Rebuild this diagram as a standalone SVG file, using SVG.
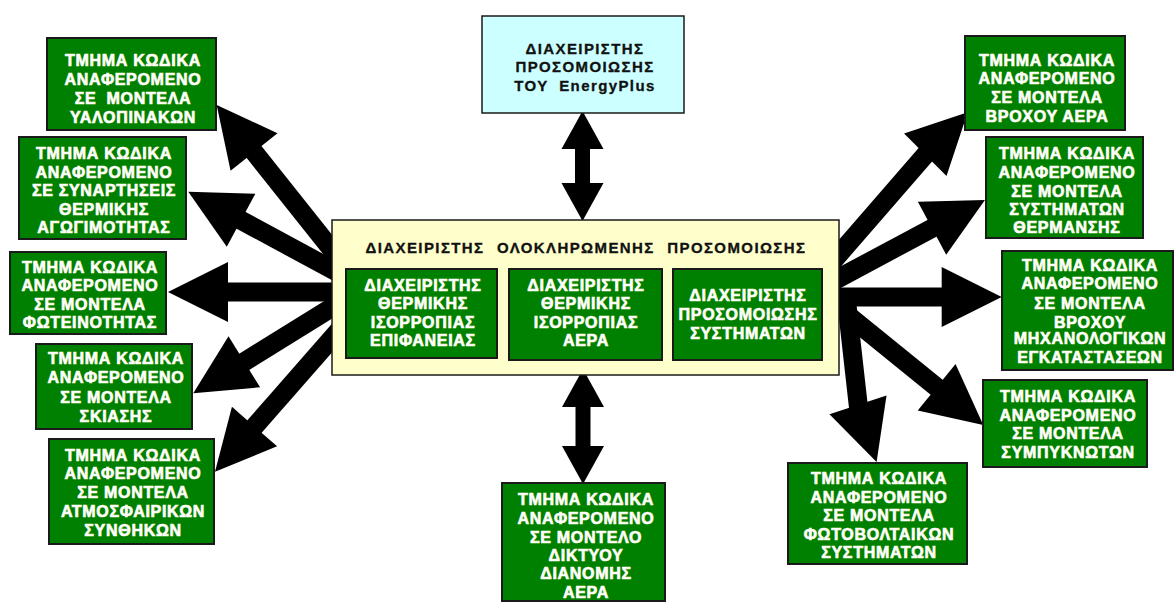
<svg xmlns="http://www.w3.org/2000/svg" width="1175" height="603" viewBox="0 0 1175 603">
<style>
.g{fill:#008000;stroke:#1a1a1a;stroke-width:2}
.t{font-family:"Liberation Sans",Arial,sans-serif;font-weight:bold;font-size:16px;fill:#ffffff;stroke:#f4f4d0;stroke-width:0.7px;paint-order:stroke;text-anchor:middle;letter-spacing:0.7px}
.k{font-family:"Liberation Sans",Arial,sans-serif;font-weight:bold;font-size:15px;fill:#111111;stroke:#111111;stroke-width:0.3px;text-anchor:middle;letter-spacing:1.4px}
.big{stroke:#000;stroke-width:19;fill:none;marker-end:url(#ah)}
.dbl{stroke:#000;stroke-width:15;fill:none;marker-start:url(#sh);marker-end:url(#sh)}
</style>
<defs>
<marker id="ah" markerUnits="userSpaceOnUse" markerWidth="62" markerHeight="62" refX="2" refY="30" orient="auto" overflow="visible"><path d="M0,0 L60,30 L0,60 Z" fill="#000"/></marker>
<marker id="sh" markerUnits="userSpaceOnUse" markerWidth="40" markerHeight="44" refX="1" refY="21" orient="auto-start-reverse" overflow="visible"><path d="M0,0 L38,21 L0,42 Z" fill="#000"/></marker>
</defs>
<rect width="1175" height="603" fill="#ffffff"/>
<g id="connectors">
<line class="dbl" x1="582.5" y1="148" x2="582.5" y2="184"/>
<line class="dbl" x1="583" y1="406" x2="583" y2="447"/>
<line class="big" x1="345" y1="266.3" x2="252.8" y2="150.4"/>
<line class="big" x1="345" y1="276.5" x2="239.3" y2="219.3"/>
<line class="big" x1="345" y1="292" x2="226" y2="292"/>
<line class="big" x1="345" y1="299.4" x2="242.6" y2="362.8"/>
<line class="big" x1="345" y1="323.2" x2="253.2" y2="428.1"/>
<path class="big" d="M826,269.2 L926,154 l0.7,-0.7"/>
<line class="big" x1="826" y1="285" x2="933.8" y2="227.3"/>
<line class="big" x1="826" y1="297" x2="943.7" y2="297"/>
<line class="big" x1="826" y1="297.5" x2="938.2" y2="388.5"/>
<path class="big" d="M846,296 L858.3,405.8 l0.31,0.95"/>
</g>
<g id="energyplus">
<rect x="482" y="16" width="202" height="97" fill="#ccffff" stroke="#1a1a1a" stroke-width="1.5"/>
<text class="k" x="585" y="53.5">ΔΙΑΧΕΙΡΙΣΤΗΣ</text>
<text class="k" x="585" y="72">ΠΡΟΣΟΜΟΙΩΣΗΣ</text>
<text class="k" x="585" y="90.5" word-spacing="5">ΤΟΥ EnergyPlus</text>
</g>
<g id="integrated-manager">
<rect x="332" y="220" width="507" height="155" fill="#ffffcc" stroke="#1a1a1a" stroke-width="1.5"/>
<text class="k" x="586" y="252.5" word-spacing="7">ΔΙΑΧΕΙΡΙΣΤΗΣ ΟΛΟΚΛΗΡΩΜΕΝΗΣ ΠΡΟΣΟΜΟΙΩΣΗΣ</text>
</g>
<g id="surface-heat">
<rect class="g" x="346" y="269" width="151" height="89"/>
<text class="t" x="423" y="291">ΔΙΑΧΕΙΡΙΣΤΗΣ</text>
<text class="t" x="423" y="309">ΘΕΡΜΙΚΗΣ</text>
<text class="t" x="423" y="328">ΙΣΟΡΡΟΠΙΑΣ</text>
<text class="t" x="423" y="346">ΕΠΙΦΑΝΕΙΑΣ</text>
</g>
<g id="air-heat">
<rect class="g" x="509" y="269" width="153" height="91"/>
<text class="t" x="586" y="291">ΔΙΑΧΕΙΡΙΣΤΗΣ</text>
<text class="t" x="586" y="309">ΘΕΡΜΙΚΗΣ</text>
<text class="t" x="586" y="328">ΙΣΟΡΡΟΠΙΑΣ</text>
<text class="t" x="586" y="346">ΑΕΡΑ</text>
</g>
<g id="systems-sim">
<rect class="g" x="673" y="269" width="149" height="91"/>
<text class="t" x="748" y="301">ΔΙΑΧΕΙΡΙΣΤΗΣ</text>
<text class="t" x="748" y="320">ΠΡΟΣΟΜΟΙΩΣΗΣ</text>
<text class="t" x="748" y="338.5">ΣΥΣΤΗΜΑΤΩΝ</text>
</g>
<g id="glazing">
<rect class="g" x="47" y="38" width="169" height="92"/>
<text class="t" x="133" y="66">ΤΜΗΜΑ ΚΩΔΙΚΑ</text>
<text class="t" x="133" y="85">ΑΝΑΦΕΡΟΜΕΝΟ</text>
<text class="t" x="133" y="104" word-spacing="5">ΣΕ ΜΟΝΤΕΛΑ</text>
<text class="t" x="133" y="123">ΥΑΛΟΠΙΝΑΚΩΝ</text>
</g>
<g id="conduction">
<rect class="g" x="19" y="137" width="167" height="102"/>
<text class="t" x="104" y="158.5">ΤΜΗΜΑ ΚΩΔΙΚΑ</text>
<text class="t" x="104" y="177.5">ΑΝΑΦΕΡΟΜΕΝΟ</text>
<text class="t" x="104" y="196">ΣΕ ΣΥΝΑΡΤΗΣΕΙΣ</text>
<text class="t" x="104" y="215">ΘΕΡΜΙΚΗΣ</text>
<text class="t" x="104" y="232.5">ΑΓΩΓΙΜΟΤΗΤΑΣ</text>
</g>
<g id="daylighting">
<rect class="g" x="10" y="252" width="156" height="82"/>
<text class="t" x="90" y="272.5">ΤΜΗΜΑ ΚΩΔΙΚΑ</text>
<text class="t" x="90" y="291">ΑΝΑΦΕΡΟΜΕΝΟ</text>
<text class="t" x="90" y="310">ΣΕ ΜΟΝΤΕΛΑ</text>
<text class="t" x="90" y="328">ΦΩΤΕΙΝΟΤΗΤΑΣ</text>
</g>
<g id="shading">
<rect class="g" x="36" y="344" width="156" height="85"/>
<text class="t" x="116" y="364">ΤΜΗΜΑ ΚΩΔΙΚΑ</text>
<text class="t" x="116" y="383">ΑΝΑΦΕΡΟΜΕΝΟ</text>
<text class="t" x="116" y="402.5">ΣΕ ΜΟΝΤΕΛΑ</text>
<text class="t" x="116" y="422">ΣΚΙΑΣΗΣ</text>
</g>
<g id="weather">
<rect class="g" x="49" y="439" width="165" height="105"/>
<text class="t" x="133" y="461">ΤΜΗΜΑ ΚΩΔΙΚΑ</text>
<text class="t" x="133" y="479">ΑΝΑΦΕΡΟΜΕΝΟ</text>
<text class="t" x="133" y="497.5">ΣΕ ΜΟΝΤΕΛΑ</text>
<text class="t" x="133" y="517">ΑΤΜΟΣΦΑΙΡΙΚΩΝ</text>
<text class="t" x="133" y="536">ΣΥΝΘΗΚΩΝ</text>
</g>
<g id="air-network">
<rect class="g" x="502" y="483" width="163" height="118"/>
<text class="t" x="586" y="505">ΤΜΗΜΑ ΚΩΔΙΚΑ</text>
<text class="t" x="586" y="524">ΑΝΑΦΕΡΟΜΕΝΟ</text>
<text class="t" x="586" y="542.5">ΣΕ ΜΟΝΤΕΛΟ</text>
<text class="t" x="586" y="561">ΔΙΚΤΥΟΥ</text>
<text class="t" x="586" y="578.5">ΔΙΑΝΟΜΗΣ</text>
<text class="t" x="586" y="597.5">ΑΕΡΑ</text>
</g>
<g id="air-loop">
<rect class="g" x="965" y="36" width="160" height="94"/>
<text class="t" x="1047" y="66">ΤΜΗΜΑ ΚΩΔΙΚΑ</text>
<text class="t" x="1047" y="84">ΑΝΑΦΕΡΟΜΕΝΟ</text>
<text class="t" x="1047" y="103">ΣΕ ΜΟΝΤΕΛΑ</text>
<text class="t" x="1047" y="122">ΒΡΟΧΟΥ ΑΕΡΑ</text>
</g>
<g id="heating">
<rect class="g" x="986" y="137" width="157" height="101"/>
<text class="t" x="1067" y="158.5">ΤΜΗΜΑ ΚΩΔΙΚΑ</text>
<text class="t" x="1067" y="177.5">ΑΝΑΦΕΡΟΜΕΝΟ</text>
<text class="t" x="1067" y="196.5">ΣΕ ΜΟΝΤΕΛΑ</text>
<text class="t" x="1067" y="215">ΣΥΣΤΗΜΑΤΩΝ</text>
<text class="t" x="1067" y="232.5">ΘΕΡΜΑΝΣΗΣ</text>
</g>
<g id="plant-loop">
<rect class="g" x="1002" y="251" width="171" height="119"/>
<text class="t" x="1090" y="271">ΤΜΗΜΑ ΚΩΔΙΚΑ</text>
<text class="t" x="1090" y="289">ΑΝΑΦΕΡΟΜΕΝΟ</text>
<text class="t" x="1090" y="308.5">ΣΕ ΜΟΝΤΕΛΑ</text>
<text class="t" x="1090" y="327.5">ΒΡΟΧΟΥ</text>
<text class="t" x="1090" y="344">ΜΗΧΑΝΟΛΟΓΙΚΩΝ</text>
<text class="t" x="1090" y="362.5">ΕΓΚΑΤΑΣΤΑΣΕΩΝ</text>
</g>
<g id="condensers">
<rect class="g" x="983" y="380" width="164" height="87"/>
<text class="t" x="1068" y="402">ΤΜΗΜΑ ΚΩΔΙΚΑ</text>
<text class="t" x="1068" y="421">ΑΝΑΦΕΡΟΜΕΝΟ</text>
<text class="t" x="1068" y="439">ΣΕ ΜΟΝΤΕΛΑ</text>
<text class="t" x="1068" y="457.5">ΣΥΜΠΥΚΝΩΤΩΝ</text>
</g>
<g id="photovoltaics">
<rect class="g" x="788" y="463" width="179" height="101"/>
<text class="t" x="879" y="483.5">ΤΜΗΜΑ ΚΩΔΙΚΑ</text>
<text class="t" x="879" y="502.5">ΑΝΑΦΕΡΟΜΕΝΟ</text>
<text class="t" x="879" y="521">ΣΕ ΜΟΝΤΕΛΑ</text>
<text class="t" x="879" y="540">ΦΩΤΟΒΟΛΤΑΙΚΩΝ</text>
<text class="t" x="879" y="557.5">ΣΥΣΤΗΜΑΤΩΝ</text>
</g>
</svg>
